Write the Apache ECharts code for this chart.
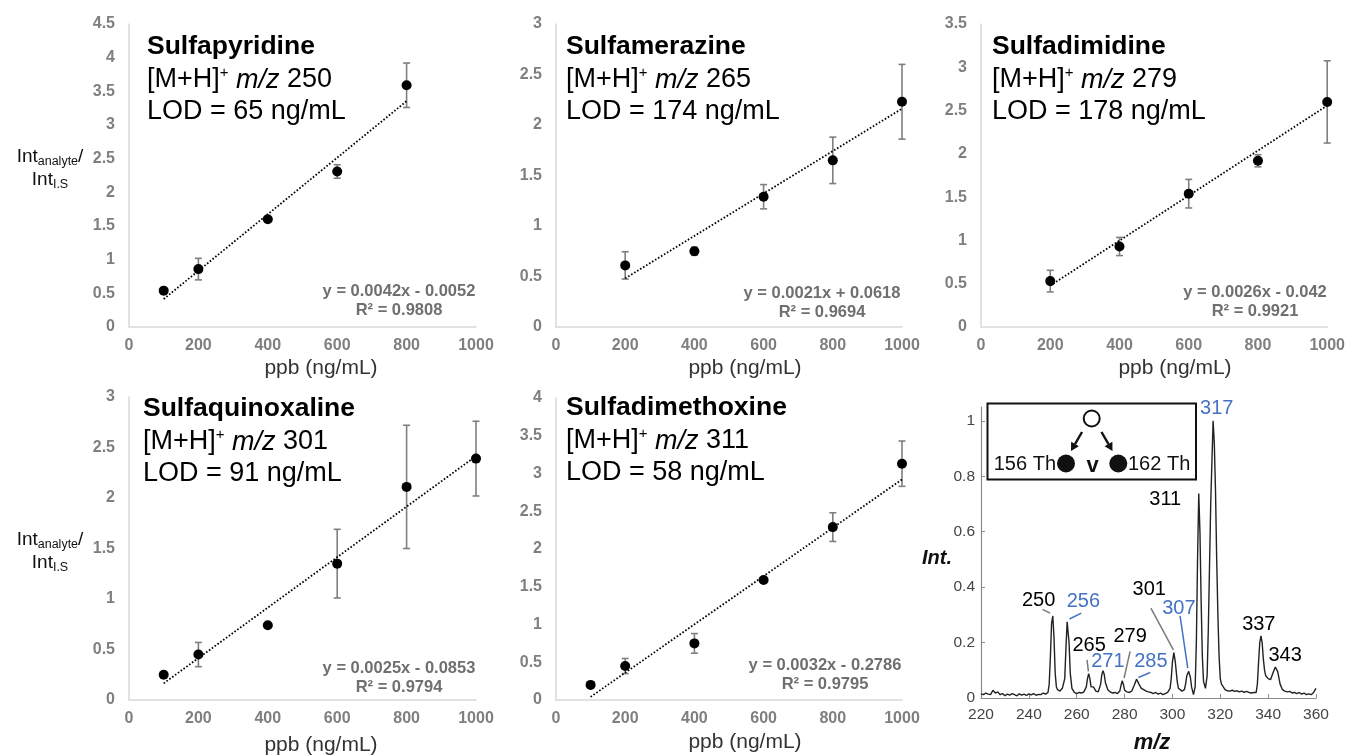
<!DOCTYPE html>
<html>
<head>
<meta charset="utf-8">
<script src="https://cdn.jsdelivr.net/npm/echarts@6/dist/echarts.min.js"></script>
<style>
html, body { margin: 0; padding: 0; background: #fff; }
#main { width: 1348px; height: 755px; }
</style>
</head>
<body>
<div id="main"></div>
<script>
// ---- calibration data (ppb vs Int analyte / Int I.S) ----
var names = ['Sulfapyridine', 'Sulfamerazine', 'Sulfadimidine', 'Sulfaquinoxaline', 'Sulfadimethoxine'];
var mzValues = [250, 265, 279, 301, 311];
var lodValues = [65, 174, 178, 91, 58];

var concSulfapyridine = [100, 200, 400, 600, 800];
var ratioSulfapyridine = [0.54, 0.86, 1.6, 2.31, 3.59];
var errSulfapyridine = [0, 0.16, 0.03, 0.1, 0.33];

var concSulfamerazine = [200, 400, 600, 800, 1000];
var ratioSulfamerazine = [0.61, 0.75, 1.29, 1.65, 2.23];
var errSulfamerazine = [0.135, 0.04, 0.12, 0.23, 0.37];

var concSulfadimidine = [200, 400, 600, 800, 1000];
var ratioSulfadimidine = [0.53, 0.93, 1.54, 1.92, 2.6];
var errSulfadimidine = [0.125, 0.105, 0.165, 0.07, 0.475];

var concSulfaquinoxaline = [100, 200, 400, 600, 800, 1000];
var ratioSulfaquinoxaline = [0.25, 0.45, 0.74, 1.35, 2.11, 2.39];
var errSulfaquinoxaline = [0, 0.12, 0, 0.34, 0.61, 0.37];

var concSulfadimethoxine = [100, 200, 400, 600, 800, 1000];
var ratioSulfadimethoxine = [0.2, 0.45, 0.75, 1.59, 2.29, 3.13];
var errSulfadimethoxine = [0, 0.1, 0.13, 0.03, 0.19, 0.3];

var trendSlope = [0.0042, 0.0021, 0.0026, 0.0025, 0.0032];
var trendIntercept = [-0.0052, 0.0618, -0.042, -0.0853, -0.2786];
var trendR2 = ['0.9808', '0.9694', '0.9921', '0.9794', '0.9795'];

var yMax = [4.5, 3, 3.5, 3, 4];

// ---- mass spectrum ----
var specMz = [220, 221, 222, 223, 224, 225, 226, 227, 228, 229, 230, 231, 232, 233, 234, 235, 236, 237, 238, 239,
  240, 241, 242, 243, 244, 245, 246, 247, 248, 248.5, 249, 249.5, 250, 250.5, 251, 251.5, 252, 253, 253.5, 254,
  255, 255.5, 256, 256.3, 256.8, 257.3, 258, 259, 260, 261, 262, 263, 264, 264.5, 265, 265.5, 266, 266.5, 267, 268,
  269, 270, 270.5, 271, 271.5, 272, 273, 274, 275, 276, 277, 278, 278.5, 279, 279.5, 280, 281, 282, 283, 284,
  285, 285.5, 286, 287, 288, 289, 290, 291, 292, 293, 294, 295, 296, 297, 298, 299, 299.5, 300, 300.6, 301.2,
  302, 302.5, 303, 304, 305, 305.5, 306, 306.8, 307.5, 308, 308.8, 309.5, 310, 310.5, 311, 311.5, 312, 312.5, 313, 313.8,
  314.5, 315, 316, 317, 317.5, 318, 318.5, 319, 319.5, 320, 320.5, 321, 322, 323, 324, 325, 326, 327, 328, 329,
  330, 331, 332, 333, 334, 335, 335.5, 336, 336.5, 337, 337.5, 338, 338.5, 339, 340, 341, 342, 343, 343.5, 344,
  345, 346, 347, 348, 349, 350, 351, 352, 353, 354, 355, 356, 357, 358, 359, 360];
var specInt = [0.015, 0.012, 0.018, 0.014, 0.012, 0.028, 0.018, 0.022, 0.012, 0.016, 0.008, 0.014, 0.01, 0.016, 0.012, 0.008, 0.015, 0.01, 0.014, 0.009,
  0.015, 0.011, 0.016, 0.01, 0.013, 0.012, 0.018, 0.014, 0.02, 0.05, 0.15, 0.27, 0.296, 0.22, 0.09, 0.04, 0.03, 0.025, 0.022, 0.035,
  0.07, 0.18, 0.275, 0.28, 0.2, 0.09, 0.035, 0.02, 0.016, 0.02, 0.018, 0.022, 0.04, 0.07, 0.088, 0.07, 0.04, 0.035, 0.04, 0.025,
  0.022, 0.05, 0.085, 0.098, 0.085, 0.055, 0.03, 0.022, 0.018, 0.02, 0.016, 0.025, 0.045, 0.062, 0.05, 0.028, 0.022, 0.02, 0.025, 0.045,
  0.068, 0.062, 0.05, 0.035, 0.03, 0.025, 0.022, 0.02, 0.016, 0.02, 0.014, 0.018, 0.012, 0.016, 0.02, 0.035, 0.07, 0.13, 0.164, 0.13,
  0.06, 0.035, 0.03, 0.025, 0.03, 0.05, 0.08, 0.096, 0.075, 0.04, 0.012, 0.04, 0.2, 0.5, 0.738, 0.6, 0.35, 0.15, 0.06, 0.035,
  0.08, 0.25, 0.7, 1.0, 0.92, 0.75, 0.5, 0.3, 0.15, 0.07, 0.05, 0.055, 0.03, 0.026, 0.025, 0.028, 0.024, 0.026, 0.022, 0.025,
  0.02, 0.024, 0.02, 0.018, 0.02, 0.02, 0.05, 0.13, 0.2, 0.224, 0.2, 0.14, 0.1, 0.08, 0.07, 0.066, 0.09, 0.112, 0.114, 0.095,
  0.05, 0.03, 0.025, 0.022, 0.024, 0.018, 0.02, 0.016, 0.02, 0.014, 0.018, 0.012, 0.015, 0.012, 0.02, 0.035];

var peakLabels = ['250', '256', '265', '271', '279', '285', '301', '307', '311', '317', '337', '343'];
var peakBlue = [false, true, false, true, false, true, false, true, false, true, false, false];

// annotation anchors for the peak labels and leader lines (data space)
var peakLabelAt = [[244.1, 0.352], [262.8, 0.348], [265.2, 0.19], [273.0, 0.132], [282.3, 0.222], [291.0, 0.132],
  [290.3, 0.393], [302.7, 0.323], [297.0, 0.718], [318.5, 1.045], [336.1, 0.267], [347.1, 0.152]];
var leaders = [
  {c: [[245.7, 0.32], [248.9, 0.306]], blue: false},
  {c: [[257.0, 0.285], [261.9, 0.306]], blue: true},
  {c: [[264.3, 0.138], [264.9, 0.096]], blue: false},
  {c: [[282.3, 0.168], [279.8, 0.072]], blue: false},
  {c: [[285.8, 0.074], [290.7, 0.092]], blue: true},
  {c: [[291.0, 0.324], [300.4, 0.174]], blue: false},
  {c: [[303.2, 0.296], [306.4, 0.108]], blue: true}
];

var FONT = '"Liberation Sans", Arial, Helvetica, sans-serif';
var BLUE = '#4472c4';

var concs = [concSulfapyridine, concSulfamerazine, concSulfadimidine, concSulfaquinoxaline, concSulfadimethoxine];
var ratios = [ratioSulfapyridine, ratioSulfamerazine, ratioSulfadimidine, ratioSulfaquinoxaline, ratioSulfadimethoxine];
var errs = [errSulfapyridine, errSulfamerazine, errSulfadimidine, errSulfaquinoxaline, errSulfadimethoxine];

var grids = [
  {left: 129, top: 24, width: 347, height: 303},
  {left: 556, top: 24, width: 346, height: 303},
  {left: 981, top: 24, width: 347, height: 303},
  {left: 129, top: 397, width: 347, height: 303},
  {left: 556, top: 398, width: 346, height: 302},
  {left: 981, top: 407, width: 335, height: 291}
];

// text positions of each panel (title block, equation, x name)
var panelText = [
  {tx: 147, ty: 47, ex: 399, ey: 301, nx: 321, ny: 368},
  {tx: 566, ty: 47, ex: 822, ey: 303, nx: 745, ny: 368},
  {tx: 992, ty: 47, ex: 1255, ey: 302, nx: 1175, ny: 368},
  {tx: 143, ty: 409, ex: 399, ey: 678, nx: 321, ny: 745},
  {tx: 566, ty: 408, ex: 825, ey: 675, nx: 745, ny: 742}
];

function errRender(params, api) {
  var x = api.value(0), lo = api.value(1), hi = api.value(2);
  if (hi - lo <= 0) return null;
  var top = api.coord([x, hi]), bot = api.coord([x, lo]);
  var cap = 3.5;
  var st = {stroke: '#7f7f7f', lineWidth: 1.6};
  return {
    type: 'group',
    children: [
      {type: 'line', shape: {x1: top[0], y1: top[1], x2: bot[0], y2: bot[1]}, style: st},
      {type: 'line', shape: {x1: top[0] - cap, y1: top[1], x2: top[0] + cap, y2: top[1]}, style: st},
      {type: 'line', shape: {x1: bot[0] - cap, y1: bot[1], x2: bot[0] + cap, y2: bot[1]}, style: st}
    ]
  };
}

function fmtEq(i) {
  var b = trendIntercept[i];
  return 'y = ' + trendSlope[i] + 'x ' + (b < 0 ? '- ' : '+ ') + Math.abs(b);
}

var xAxes = [], yAxes = [], series = [], graphics = [];

for (var i = 0; i < 5; i++) {
  xAxes.push({
    gridIndex: i, type: 'value', min: 0, max: 1000, interval: 200,
    axisLine: {lineStyle: {color: '#d9d9d9', width: 1.5}},
    axisTick: {show: false},
    splitLine: {show: false},
    axisLabel: {color: '#7f7f7f', fontWeight: 'bold', fontSize: 16, fontFamily: FONT, margin: 11,
      formatter: function (v) { return String(v); }}
  });
  yAxes.push({
    gridIndex: i, type: 'value', min: 0, max: yMax[i], interval: 0.5,
    axisLine: {show: true, lineStyle: {color: '#d9d9d9', width: 1.5}},
    axisTick: {show: false},
    splitLine: {show: false},
    axisLabel: {color: '#7f7f7f', fontWeight: 'bold', fontSize: 16, fontFamily: FONT, margin: 14}
  });

  var pts = [], bars = [];
  for (var j = 0; j < concs[i].length; j++) {
    pts.push([concs[i][j], ratios[i][j]]);
    bars.push([concs[i][j], ratios[i][j] - errs[i][j], ratios[i][j] + errs[i][j]]);
  }
  var x0 = concs[i][0], x1 = concs[i][concs[i].length - 1];
  series.push({
    type: 'custom', xAxisIndex: i, yAxisIndex: i, renderItem: errRender,
    encode: {x: 0, y: [1, 2]}, data: bars, z: 2, silent: true
  });
  series.push({
    type: 'line', xAxisIndex: i, yAxisIndex: i, showSymbol: false, symbol: 'none',
    data: [[x0, trendSlope[i] * x0 + trendIntercept[i]], [x1, trendSlope[i] * x1 + trendIntercept[i]]],
    lineStyle: {color: '#000', width: 1.8, type: [1.6, 1.9]}, z: 3, silent: true
  });
  series.push({
    type: 'scatter', xAxisIndex: i, yAxisIndex: i, data: pts, symbolSize: 10,
    itemStyle: {color: '#000', opacity: 1}, z: 4
  });

  var p = panelText[i];
  graphics.push({
    type: 'text', x: p.tx, y: p.ty,
    style: {text: names[i], font: 'bold 26.5px ' + FONT, fill: '#000', verticalAlign: 'middle', align: 'left'}
  });
  graphics.push({
    type: 'text', x: p.tx, y: p.ty + 33,
    style: {
      text: '{n|[M+H]}{s|+}{n| }{it|m/z}{n| ' + mzValues[i] + '}',
      verticalAlign: 'middle', align: 'left',
      rich: {
        n: {fontSize: 27, fontFamily: FONT, fill: '#000', lineHeight: 30},
        s: {fontSize: 15, fontFamily: FONT, fill: '#000', verticalAlign: 'top', lineHeight: 30},
        it: {fontSize: 27, fontFamily: FONT, fontStyle: 'italic', fill: '#000', lineHeight: 30}
      }
    }
  });
  graphics.push({
    type: 'text', x: p.tx, y: p.ty + 65,
    style: {text: 'LOD = ' + lodValues[i] + ' ng/mL', font: '27px ' + FONT, fill: '#000', verticalAlign: 'middle', align: 'left'}
  });
  graphics.push({
    type: 'text', x: p.ex, y: p.ey,
    style: {
      text: fmtEq(i) + '\nR\u00b2 = ' + trendR2[i], font: 'bold 16.5px ' + FONT, fill: '#6f6f6f',
      align: 'center', verticalAlign: 'middle', lineHeight: 18.5
    }
  });
  graphics.push({
    type: 'text', x: p.nx, y: p.ny,
    style: {text: 'ppb (ng/mL)', font: '21px ' + FONT, fill: '#333', align: 'center', verticalAlign: 'middle'}
  });
}

// y titles of the calibration rows
[168, 551].forEach(function (yy) {
  graphics.push({
    type: 'text', x: 50, y: yy,
    style: {
      text: '{a|Int}{b|analyte}{a|/}\n{a|Int}{b|I.S}',
      align: 'center', verticalAlign: 'middle',
      rich: {
        a: {fontSize: 19, fontFamily: FONT, fill: '#111', lineHeight: 23},
        b: {fontSize: 12.5, fontFamily: FONT, fill: '#111', verticalAlign: 'bottom', lineHeight: 23}
      }
    }
  });
});

// spectrum panel
xAxes.push({
  gridIndex: 5, type: 'value', min: 220, max: 360, interval: 20,
  axisLine: {lineStyle: {color: '#8a8a8a', width: 1.2}},
  axisTick: {show: true, inside: true, length: 4, lineStyle: {color: '#8a8a8a'}},
  splitLine: {show: false},
  axisLabel: {color: '#444', fontSize: 15.5, fontFamily: FONT, margin: 9}
});
yAxes.push({
  gridIndex: 5, type: 'value', min: 0, max: 1.05, interval: 0.2,
  axisLine: {show: true, lineStyle: {color: '#8a8a8a', width: 1.2}},
  axisTick: {show: true, inside: true, length: 4, lineStyle: {color: '#8a8a8a'}},
  splitLine: {show: false},
  axisLabel: {color: '#444', fontSize: 15.5, fontFamily: FONT, margin: 6, showMaxLabel: false}
});

var spec = specMz.map(function (m, k) { return [m, specInt[k]]; });
series.push({
  type: 'line', xAxisIndex: 5, yAxisIndex: 5, data: spec, showSymbol: false, symbol: 'none',
  lineStyle: {color: '#222', width: 1.4}, z: 3, silent: true
});
series.push({
  type: 'lines', coordinateSystem: 'cartesian2d', xAxisIndex: 5, yAxisIndex: 5, silent: true,
  data: leaders.map(function (l) {
    return {coords: l.c, lineStyle: {color: l.blue ? BLUE : '#7a7a7a'}};
  }),
  lineStyle: {width: 1.5, opacity: 1}, z: 4
});
series.push({
  type: 'scatter', xAxisIndex: 5, yAxisIndex: 5, symbolSize: 1, silent: true,
  itemStyle: {color: 'rgba(0,0,0,0)', opacity: 1},
  data: peakLabels.map(function (t, k) {
    return {
      name: t, value: peakLabelAt[k],
      label: {color: peakBlue[k] ? BLUE : '#000'}
    };
  }),
  label: {show: true, position: 'inside', formatter: '{b}', fontSize: 20, fontFamily: FONT},
  z: 5
});

graphics.push({
  type: 'text', x: 937, y: 558,
  style: {text: 'Int.', font: 'italic bold 20px ' + FONT, fill: '#111', align: 'center', verticalAlign: 'middle'}
});
graphics.push({
  type: 'text', x: 1152, y: 743,
  style: {text: 'm/z', font: 'italic bold 22px ' + FONT, fill: '#111', align: 'center', verticalAlign: 'middle'}
});

// inset scheme
graphics.push({
  type: 'rect', shape: {x: 987.5, y: 403.5, width: 208.5, height: 76}, z: 10,
  style: {fill: '#fff', stroke: '#111', lineWidth: 2}
});
graphics.push({
  type: 'circle', shape: {cx: 1091.7, cy: 418.5, r: 8}, z: 11,
  style: {fill: '#fff', stroke: '#111', lineWidth: 2}
});
function arrow(x1, y1, x2, y2) {
  var a = Math.atan2(y2 - y1, x2 - x1), h = 8, w = 4.5;
  var bx = x2 - h * Math.cos(a), by = y2 - h * Math.sin(a);
  graphics.push({
    type: 'line', shape: {x1: x1, y1: y1, x2: bx, y2: by}, z: 11,
    style: {stroke: '#111', lineWidth: 2.4}
  });
  graphics.push({
    type: 'polygon', z: 11,
    shape: {points: [[x2, y2], [bx + w * Math.sin(a), by - w * Math.cos(a)], [bx - w * Math.sin(a), by + w * Math.cos(a)]]},
    style: {fill: '#111'}
  });
}
arrow(1082, 432, 1071, 451);
arrow(1101.5, 432, 1112.5, 451);
graphics.push({type: 'circle', shape: {cx: 1066, cy: 463.5, r: 9}, z: 11, style: {fill: '#111'}});
graphics.push({type: 'circle', shape: {cx: 1118.3, cy: 463.5, r: 9}, z: 11, style: {fill: '#111'}});
graphics.push({
  type: 'text', x: 1056, y: 464, z: 11,
  style: {text: '156 Th', font: '20px ' + FONT, fill: '#111', align: 'right', verticalAlign: 'middle'}
});
graphics.push({
  type: 'text', x: 1128, y: 464, z: 11,
  style: {text: '162 Th', font: '20px ' + FONT, fill: '#111', align: 'left', verticalAlign: 'middle'}
});
graphics.push({
  type: 'text', x: 1092.5, y: 466, z: 11,
  style: {text: 'v', font: 'bold 22px ' + FONT, fill: '#111', align: 'center', verticalAlign: 'middle'}
});

var chart = echarts.init(document.getElementById('main'));
chart.setOption({
  animation: false,
  backgroundColor: '#fff',
  grid: grids,
  xAxis: xAxes,
  yAxis: yAxes,
  series: series,
  graphic: {elements: graphics}
});
window.onresize = function () { chart.resize(); };
</script>
</body>
</html>
